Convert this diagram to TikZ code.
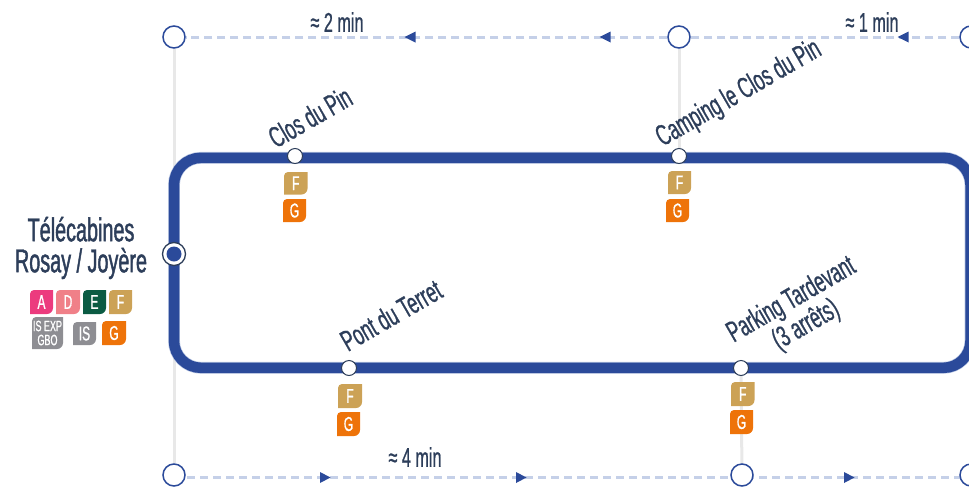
\documentclass[tikz,border=0pt]{standalone}
\usepackage{fontspec}
\usetikzlibrary{backgrounds}
\setmainfont[FakeStretch=0.6,FakeBold=0.8]{Liberation Sans}
\newfontfamily\hubfont[FakeStretch=0.6,FakeBold=1.3]{Liberation Sans}
\definecolor{navy}{HTML}{2B4A9A}
\definecolor{halo}{HTML}{B9C6E2}
\definecolor{dashc}{HTML}{C5D0E8}
\definecolor{ink}{HTML}{2D3E5A}
\definecolor{rail}{HTML}{E8E8E8}
\definecolor{cA}{HTML}{EC3B7E}
\definecolor{cD}{HTML}{F08088}
\definecolor{cE}{HTML}{0B5B43}
\definecolor{cF}{HTML}{CCA256}
\definecolor{cI}{HTML}{8E8E93}
\definecolor{cG}{HTML}{EE7309}
\tikzset{
  terminal/.style={circle,draw=navy,fill=white,line width=1.5pt,minimum size=22pt,inner sep=0pt},
  halt/.style={circle,draw=ink,fill=white,line width=1pt,minimum size=15pt,inner sep=0pt},
  hub/.style={circle,draw=ink,fill=white,line width=1.3pt,minimum size=23pt,inner sep=0pt},
  hubcore/.style={circle,fill=navy,minimum size=15pt,inner sep=0pt},
  railline/.style={draw=rail,line width=3pt},
  dashline/.style={draw=dashc,line width=3pt,dash pattern=on 8pt off 5pt},
  loopline/.style={draw=navy,line width=10.5pt,rounded corners=27pt},
  loophalo/.style={draw=halo,line width=11.8pt,rounded corners=27pt},
  stoplabel/.style={text=ink,font=\fontsize{29.5}{29}\selectfont,rotate=30,align=center,inner sep=0pt},
  timelabel/.style={text=ink,font=\fontsize{27}{28}\selectfont,inner sep=0pt},
  hublabel/.style={text=ink,font=\hubfont\fontsize{33}{31}\selectfont,align=center,inner sep=0pt},
  badgetext/.style={text=white,font=\fontsize{20}{21}\selectfont,inner sep=0pt},
  smallbadgetext/.style={text=white,font=\fontsize{15}{14}\selectfont,align=center,inner sep=0pt}
}
% name, left, top, width, height, colour, text style, text
\newcommand{\leafbadge}[8]{%
  \fill[#6] (#2+4,#3) -- (#2+#4,#3) -- (#2+#4,#3+#5-6)
    .. controls (#2+#4,#3+#5-2.7) and (#2+#4-2.7,#3+#5) .. (#2+#4-6,#3+#5)
    -- (#2,#3+#5) -- (#2,#3+4)
    .. controls (#2,#3+1.8) and (#2+1.8,#3) .. (#2+4,#3) -- cycle;
  \node[#7] (#1) at (#2+#4/2,#3+#5/2) {#8};
}
\begin{document}
\begin{tikzpicture}[x=1pt,y=-1pt]
\useasboundingbox (0,0) rectangle (969,496);
% terminals
\node[terminal] (t1) at (174,37) {};
\node[terminal] (t2) at (679,37) {};
\node[terminal] (t3) at (971,37) {};
\node[terminal] (b1) at (174,475) {};
\node[terminal] (b2) at (742,475) {};
\node[terminal] (b3) at (971,475) {};
\coordinate (bl1) at (174,477.5);
\coordinate (bl3) at (971,477.5);
\coordinate (lc) at (174,157.8);
\coordinate (rc) at (970.5,367.8);
% stops
\node[halt] (s1) at (295,156) {};
\node[halt] (s2) at (679,156) {};
\node[halt] (s3) at (349,368) {};
\node[halt] (s4) at (741,368) {};
\node[hub] (hub) at (174,254) {};
\node[hubcore] at (hub) {};
% rails and dashed routes under everything
\begin{scope}[on background layer]
\path[dashline] (t3) -- (t2);
\path[dashline] (t2) -- (t1);
\path[dashline] (bl1) -- (bl3);
\path[railline] (t1) -- (b1);
\path[railline] (t2) -- (s2);
\path[railline] (s4) -- (b2);
% loop
\path[loophalo] (lc) rectangle (rc);
\path[loopline] (lc) rectangle (rc);
\end{scope}
% direction marks
\foreach \x in {410,605,903} \fill[navy] (\x+5.5,31.5) -- (\x-5.5,37) -- (\x+5.5,42.5) -- cycle;
\foreach \x in {325,521,849} \fill[navy] (\x-5,472) -- (\x+5.5,477.5) -- (\x-5,483) -- cycle;
% labels
\node[hublabel] (hl) at (81,248) {Télécabines\\Rosay / Joyère};
\node[stoplabel] (l1) at (310,117) {Clos du Pin};
\node[stoplabel] (l2) at (739,94) {Camping le Clos du Pin};
\node[stoplabel] (l3) at (391,315) {Pont du Terret};
\node[stoplabel] (l4) at (799,313) {Parking Tardevant\\(3 arrêts)};
\node[timelabel] (m1) at (337,22) {≈ 2 min};
\node[timelabel] (m2) at (872,22) {≈ 1 min};
\node[timelabel] (m3) at (415,457) {≈ 4 min};
% badges
\leafbadge{hA}{30}{290}{23}{24}{cA}{badgetext}{A}
\leafbadge{hD}{56}{290}{24}{24}{cD}{badgetext}{D}
\leafbadge{hE}{83}{290}{23}{24}{cE}{badgetext}{E}
\leafbadge{hF}{109}{290}{23}{24}{cF}{badgetext}{F}
\leafbadge{hX}{32}{317}{31}{32}{cI}{smallbadgetext}{IS EXP\\GBO}
\leafbadge{hI}{73}{322}{23}{23}{cI}{badgetext}{IS}
\leafbadge{hG}{102}{321}{24}{24}{cG}{badgetext}{G}
\leafbadge{aF}{284}{172}{23.5}{22.5}{cF}{badgetext}{F}
\leafbadge{aG}{283}{199}{23}{23}{cG}{badgetext}{G}
\leafbadge{bF}{668}{171}{23}{23}{cF}{badgetext}{F}
\leafbadge{bG}{666}{199}{23}{23}{cG}{badgetext}{G}
\leafbadge{cF}{338}{384}{24}{24}{cF}{badgetext}{F}
\leafbadge{cG}{337}{412}{23}{24}{cG}{badgetext}{G}
\leafbadge{dF}{731}{382}{23.5}{24}{cF}{badgetext}{F}
\leafbadge{dG}{730}{410}{23}{24}{cG}{badgetext}{G}
\end{tikzpicture}
\end{document}
